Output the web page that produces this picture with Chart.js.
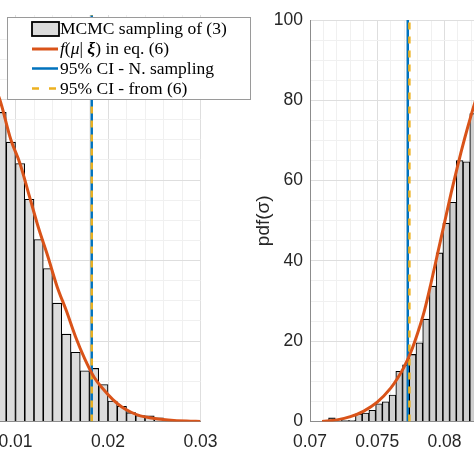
<!DOCTYPE html>
<html>
<head>
<meta charset="utf-8">
<script src="https://cdn.jsdelivr.net/npm/chart.js@4.4.1/dist/chart.umd.min.js"></script>
<style>
  html, body { margin: 0; padding: 0; background: #fff; }
  body { width: 474px; height: 474px; overflow: hidden; position: relative; }
  canvas { position: absolute; top: 0; }
  #muChart { left: -137px; z-index: 2; }
  #sigmaChart { left: 240px; z-index: 1; }
</style>
</head>
<body>
<canvas id="sigmaChart" width="366" height="474"></canvas>
<canvas id="muChart" width="390" height="474"></canvas>
<script>
// left panel (mu) - histogram bins of 0.001
const muBinCenters = [0.0085, 0.0095, 0.0105, 0.0115, 0.0125, 0.0135, 0.0145, 0.0155, 0.0165, 0.0175,
                      0.0185, 0.0195, 0.0205, 0.0215, 0.0225, 0.0235, 0.0245, 0.0255, 0.0265];
const muBinValues = [76.8, 69.4, 64.1, 55.2, 45.2, 38.0, 29.4, 21.7, 17.2, 12.6,
                     13.2, 9.2, 5.1, 3.8, 2.2, 1.5, 1.4, 0.9, 0.3];
const muCurveX = [0.0070, 0.0083, 0.0095, 0.0105, 0.0115, 0.0125, 0.0135, 0.0145, 0.0155, 0.0165, 0.0175,
                  0.0185, 0.0195, 0.0205, 0.0215, 0.0225, 0.0235, 0.0245, 0.0265, 0.0285, 0.0300];
const muCurveY = [87, 80, 70, 64, 56, 48, 41, 33.5, 27.5, 21, 15.5,
                  11, 8, 5.5, 3.6, 2.3, 1.4, 0.95, 0.4, 0.1, 0.02];
const muCI = 0.01824;
const muCIfrom6 = 0.01824;
const muTickLabels = [0, 0.01, 0.02, 0.03];

// right panel (sigma) - histogram bins of 0.0005
const sigmaBinCenters = [0.07163, 0.07213, 0.07263, 0.07313, 0.07363, 0.07413, 0.07463, 0.07513, 0.07563, 0.07613,
                         0.07663, 0.07713, 0.07763, 0.07813, 0.07863, 0.07913, 0.07963, 0.08013, 0.08063, 0.08113,
                         0.08163, 0.08213];
const sigmaBinValues = [0.9, 0.4, 0.2, 0.3, 1.9, 2.1, 2.8, 4.4, 4.9, 6.6,
                        12.5, 14.1, 16.7, 19.6, 25.5, 33.7, 42, 49.4, 54.6, 65,
                        64.7, 76.7];
const sigmaCurveX = [0.0709, 0.0720, 0.0730, 0.0740, 0.0750, 0.0760, 0.0765, 0.0770, 0.0775, 0.0780,
                     0.0785, 0.0790, 0.0795, 0.0800, 0.0805, 0.0810, 0.0815, 0.0820, 0.0825];
const sigmaCurveY = [0, 0.4, 1.2, 2.6, 4.8, 8.3, 10.7, 13.6, 17.3, 22.0,
                     27.5, 34.5, 42, 49.5, 57, 64, 70.5, 76.5, 82];
const sigmaCI = 0.07727;
const sigmaCIfrom6 = 0.07739;
const sigmaXTickLabels = [0.07, 0.075, 0.08, 0.085, 0.09];
const sigmaYTickLabels = [0, 20, 40, 60, 80, 100];

const sans = "'Liberation Sans', Arial, sans-serif";
const serif = "'Liberation Serif', 'Times New Roman', serif";
const isIn = (v, list) => list.some(t => Math.abs(t - v) < 1e-9);
const fmt = v => String(Number(v.toFixed(4)));

function xyData(xs, ys) {
  return xs.map((x, i) => ({ x: x, y: ys[i] }));
}

function panelDatasets(centers, values, curveX, curveY, ci, ci6, top, fill) {
  return [
    {
      type: 'bar', data: xyData(centers, values),
      backgroundColor: fill, borderColor: '#000', borderWidth: 1.1,
      barPercentage: 1, categoryPercentage: 1, order: 3
    },
    {
      type: 'line', data: [{ x: ci, y: 0 }, { x: ci, y: top }],
      borderColor: '#0072BD', borderWidth: 2.5, pointRadius: 0, tension: 0, order: 2
    },
    {
      type: 'line', data: [{ x: ci6, y: 0 }, { x: ci6, y: top }],
      borderColor: '#EDB120', borderWidth: 2.5, borderDash: [7, 7], pointRadius: 0, tension: 0, order: 1
    },
    {
      type: 'line', data: xyData(curveX, curveY),
      borderColor: '#D95319', borderWidth: 3, pointRadius: 0,
      cubicInterpolationMode: 'monotone', order: 0
    }
  ];
}

function xScale(min, max, step, labels) {
  return {
    type: 'linear', min: min, max: max, offset: false,
    grid: {
      offset: false, drawTicks: false,
      color: c => isIn(c.tick.value, labels) ? '#dedede' : '#f0f0f0'
    },
    border: { color: '#8c8c8c', width: 1 },
    ticks: {
      stepSize: step, autoSkip: false, maxRotation: 0, padding: 10,
      color: '#262626', font: { family: sans, size: 17.5 },
      callback: v => isIn(v, labels) ? fmt(v) : ''
    },
    afterFit: s => { s.height = 52.5; }
  };
}

function yScale(max, labels, showTicks, title) {
  return {
    min: 0, max: max,
    grid: {
      drawTicks: false,
      color: c => {
        const v = c.tick.value;
        if (Math.abs(v / 5 - Math.round(v / 5)) > 1e-9) return 'rgba(0,0,0,0)';
        return isIn(v, labels) ? '#dedede' : '#f0f0f0';
      }
    },
    border: { color: '#8c8c8c', width: 1 },
    ticks: {
      display: showTicks, stepSize: 5, autoSkip: false, padding: 7,
      color: '#262626', font: { family: sans, size: 17.5 },
      callback: v => isIn(v, labels) ? fmt(v) : ''
    },
    title: title ? {
      display: true, text: title, color: '#262626',
      font: { family: sans, size: 19 }, padding: { top: 12, bottom: 0 }
    } : { display: false },
    afterFit: s => { s.width = showTicks ? 70 : 60; }
  };
}

// legend box, drawn in page coordinates (left canvas is shifted by 137px)
const OFF = 137;
function textRuns(c, x, y, parts) {
  parts.forEach(([txt, style]) => {
    c.font = (style ? style + ' ' : '') + '17.5px ' + serif;
    c.fillText(txt, x, y);
    x += c.measureText(txt).width;
  });
}
const legendBox = {
  id: 'legendBox',
  afterDraw(chart) {
    const c = chart.ctx;
    c.save();
    c.translate(OFF, 0);
    c.fillStyle = '#fff';
    c.fillRect(7, 17, 244, 83);
    c.strokeStyle = '#9a9a9a';
    c.lineWidth = 1;
    c.strokeRect(7.5, 17.5, 243, 82);

    // symbols
    c.fillStyle = '#dcdcdc';
    c.fillRect(32, 22, 27, 14);
    c.strokeStyle = '#000';
    c.lineWidth = 1.8;
    c.strokeRect(32, 22, 27, 14);

    c.lineWidth = 3;
    c.strokeStyle = '#D95319';
    c.beginPath(); c.moveTo(32, 49); c.lineTo(58, 49); c.stroke();

    c.lineWidth = 2.5;
    c.strokeStyle = '#0072BD';
    c.beginPath(); c.moveTo(32, 68.5); c.lineTo(58, 68.5); c.stroke();

    c.strokeStyle = '#EDB120';
    c.setLineDash([7, 10]);
    c.beginPath(); c.moveTo(32, 88.5); c.lineTo(58, 88.5); c.stroke();
    c.setLineDash([]);

    // labels
    c.fillStyle = '#000';
    c.textBaseline = 'alphabetic';
    c.textAlign = 'left';
    textRuns(c, 60, 33.5, [['MCMC sampling of (3)', '']]);
    textRuns(c, 60, 54, [['f', 'italic'], ['(', ''], ['\u03bc', 'italic'], ['| ', ''],
                         ['\u03be', 'italic bold'], [') in eq. (6)', '']]);
    textRuns(c, 60, 74, [['95% CI - N. sampling', '']]);
    textRuns(c, 60, 93.5, [['95% CI - from (6)', '']]);
    c.restore();
  }
};

const common = {
  responsive: false,
  animation: false,
  events: [],
  plugins: { legend: { display: false }, tooltip: { enabled: false } }
};

new Chart(document.getElementById('sigmaChart'), {
  type: 'bar',
  data: { datasets: panelDatasets(sigmaBinCenters, sigmaBinValues, sigmaCurveX, sigmaCurveY,
                                  sigmaCI, sigmaCIfrom6, 100, '#cfcfcf') },
  options: Object.assign({}, common, {
    layout: { padding: { top: 20, right: 20, bottom: 0, left: 0 } },
    scales: {
      x: xScale(0.07, 0.09, 0.001, sigmaXTickLabels),
      y: yScale(100, sigmaYTickLabels, true, 'pdf(\u03c3)')
    }
  })
});

new Chart(document.getElementById('muChart'), {
  type: 'bar',
  data: { datasets: panelDatasets(muBinCenters, muBinValues, muCurveX, muCurveY,
                                  muCI, muCIfrom6, 101, '#dcdcdc') },
  options: Object.assign({}, common, {
    layout: { padding: { top: 15, right: 52.5, bottom: 0, left: 0 } },
    scales: {
      x: xScale(0, 0.03, 0.002, muTickLabels),
      y: yScale(101, [0, 20, 40, 60, 80, 100], false, null)
    }
  }),
  plugins: [legendBox]
});
</script>
</body>
</html>
